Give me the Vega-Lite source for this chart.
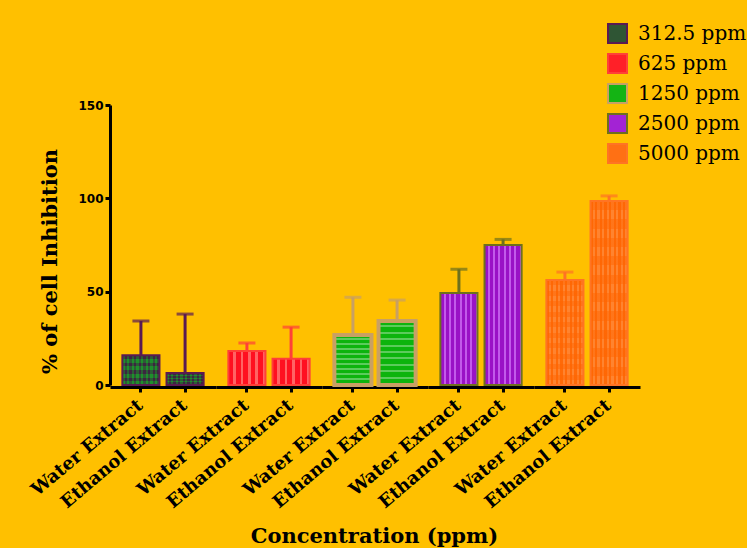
{
  "$schema": "https://vega.github.io/schema/vega-lite/v6.json",
  "background": "#FFC000",
  "padding": {"left": 27, "top": 23, "right": 0, "bottom": 0},
  "data": {
    "values": [
      {"conc": "312.5 ppm", "extract": "Water Extract", "mean": 16, "upper": 34.3},
      {"conc": "312.5 ppm", "extract": "Ethanol Extract", "mean": 6.4, "upper": 38},
      {"conc": "625 ppm", "extract": "Water Extract", "mean": 18.2, "upper": 22.5},
      {"conc": "625 ppm", "extract": "Ethanol Extract", "mean": 14, "upper": 31},
      {"conc": "1250 ppm", "extract": "Water Extract", "mean": 26.8, "upper": 47},
      {"conc": "1250 ppm", "extract": "Ethanol Extract", "mean": 34.3, "upper": 45.5},
      {"conc": "2500 ppm", "extract": "Water Extract", "mean": 49.3, "upper": 62},
      {"conc": "2500 ppm", "extract": "Ethanol Extract", "mean": 75, "upper": 78},
      {"conc": "5000 ppm", "extract": "Water Extract", "mean": 56.2, "upper": 60.5},
      {"conc": "5000 ppm", "extract": "Ethanol Extract", "mean": 98.6, "upper": 101.3}
    ]
  },
  "title": {
    "text": "Concentration (ppm)",
    "orient": "bottom",
    "anchor": "middle",
    "font": "DejaVu Serif",
    "fontSize": 21,
    "fontWeight": "bold",
    "color": "black",
    "dx": -13,
    "offset": 15
  },
  "facet": {
    "column": {
      "field": "conc",
      "type": "nominal",
      "sort": ["312.5 ppm", "625 ppm", "1250 ppm", "2500 ppm", "5000 ppm"],
      "header": null
    }
  },
  "spacing": 0,
  "spec": {
    "width": 106,
    "height": 280,
    "encoding": {
      "x": {
        "field": "extract",
        "type": "nominal",
        "sort": ["Water Extract", "Ethanol Extract"],
        "scale": {"paddingInner": 0.16, "paddingOuter": 0.28},
        "axis": {
          "title": null,
          "labelAngle": -40,
          "labelFont": "DejaVu Serif",
          "labelFontWeight": "bold",
          "labelFontSize": 18,
          "labelColor": "black",
          "labelPadding": 4,
          "labelOffset": -6,
          "domainWidth": 3,
          "domainColor": "black",
          "tickColor": "black",
          "tickWidth": 3,
          "tickSize": 5
        }
      }
    },
    "layer": [
      {
        "mark": {"type": "bar", "strokeWidth": 0},
        "encoding": {
          "y": {
            "field": "mean",
            "type": "quantitative",
            "scale": {"domain": [0, 150], "nice": false},
            "axis": {
              "title": "% of cell Inhibition",
              "titleY": 156,
              "values": [0, 50, 100, 150],
              "grid": false,
              "labelFlush": false,
              "domainWidth": 3,
              "domainColor": "black",
              "tickColor": "black",
              "tickWidth": 3,
              "tickSize": 5,
              "labelFont": "DejaVu Sans",
              "labelFontWeight": "bold",
              "labelFontSize": 12,
              "labelColor": "black",
              "labelPadding": 2,
              "titleFont": "DejaVu Serif",
              "titleFontWeight": "bold",
              "titleFontSize": 21,
              "titleColor": "black",
              "titlePadding": 17
            }
          },
          "fill": {
            "field": "conc",
            "type": "nominal",
            "scale": {
              "domain": ["312.5 ppm", "625 ppm", "1250 ppm", "2500 ppm", "5000 ppm"],
              "range": ["#2F5534", "#FF2028", "#14B414", "#A323D4", "#FF7014"]
            },
            "legend": {
              "title": null,
              "orient": "none",
              "legendX": 497,
              "legendY": -82,
              "symbolType": "square",
              "symbolSize": 361,
              "symbolStrokeWidth": 2,
              "labelFont": "DejaVu Serif",
              "labelFontSize": 20,
              "labelColor": "black",
              "labelOffset": 10,
              "rowPadding": 3
            }
          }
        }
      },
      {
        "mark": {"type": "bar", "strokeWidth": 0},
        "encoding": {
          "y": {"field": "mean", "type": "quantitative"},
          "fill": {
            "condition": [
              {"test": "datum.conc === '312.5 ppm'", "value": {"gradient": "linear", "x1": 0, "y1": 0, "x2": 1, "y2": 0, "stops": [
                {"offset": 0, "color": "#1F8F2C"}, {"offset": 0.0625, "color": "#1F8F2C"}, {"offset": 0.0625, "color": "#3B2640"}, {"offset": 0.125, "color": "#3B2640"},
                {"offset": 0.125, "color": "#1F8F2C"}, {"offset": 0.1875, "color": "#1F8F2C"}, {"offset": 0.1875, "color": "#3B2640"}, {"offset": 0.25, "color": "#3B2640"},
                {"offset": 0.25, "color": "#1F8F2C"}, {"offset": 0.3125, "color": "#1F8F2C"}, {"offset": 0.3125, "color": "#3B2640"}, {"offset": 0.375, "color": "#3B2640"},
                {"offset": 0.375, "color": "#1F8F2C"}, {"offset": 0.4375, "color": "#1F8F2C"}, {"offset": 0.4375, "color": "#3B2640"}, {"offset": 0.5, "color": "#3B2640"},
                {"offset": 0.5, "color": "#1F8F2C"}, {"offset": 0.5625, "color": "#1F8F2C"}, {"offset": 0.5625, "color": "#3B2640"}, {"offset": 0.625, "color": "#3B2640"},
                {"offset": 0.625, "color": "#1F8F2C"}, {"offset": 0.6875, "color": "#1F8F2C"}, {"offset": 0.6875, "color": "#3B2640"}, {"offset": 0.75, "color": "#3B2640"},
                {"offset": 0.75, "color": "#1F8F2C"}, {"offset": 0.8125, "color": "#1F8F2C"}, {"offset": 0.8125, "color": "#3B2640"}, {"offset": 0.875, "color": "#3B2640"},
                {"offset": 0.875, "color": "#1F8F2C"}, {"offset": 0.9375, "color": "#1F8F2C"}, {"offset": 0.9375, "color": "#3B2640"}, {"offset": 1, "color": "#3B2640"}
              ]}},
              {"test": "datum.conc === '625 ppm'", "value": {"gradient": "linear", "x1": 0, "y1": 0, "x2": 1, "y2": 0, "stops": [
                {"offset": 0, "color": "#FF1020"}, {"offset": 0.13, "color": "#FF1020"}, {"offset": 0.13, "color": "#FF6464"}, {"offset": 0.2, "color": "#FF6464"},
                {"offset": 0.2, "color": "#FF1020"}, {"offset": 0.33, "color": "#FF1020"}, {"offset": 0.33, "color": "#FF6464"}, {"offset": 0.4, "color": "#FF6464"},
                {"offset": 0.4, "color": "#FF1020"}, {"offset": 0.53, "color": "#FF1020"}, {"offset": 0.53, "color": "#FF6464"}, {"offset": 0.6, "color": "#FF6464"},
                {"offset": 0.6, "color": "#FF1020"}, {"offset": 0.73, "color": "#FF1020"}, {"offset": 0.73, "color": "#FF6464"}, {"offset": 0.8, "color": "#FF6464"},
                {"offset": 0.8, "color": "#FF1020"}, {"offset": 0.93, "color": "#FF1020"}, {"offset": 0.93, "color": "#FF6464"}, {"offset": 1, "color": "#FF6464"}
              ]}},
              {"test": "datum.conc === '1250 ppm'", "value": {"gradient": "linear", "x1": 0, "y1": 0, "x2": 0, "y2": 1, "stops": [
                {"offset": 0, "color": "#0DB40D"}, {"offset": 0.07, "color": "#0DB40D"}, {"offset": 0.07, "color": "#5CCB5C"}, {"offset": 0.1, "color": "#5CCB5C"},
                {"offset": 0.1, "color": "#0DB40D"}, {"offset": 0.17, "color": "#0DB40D"}, {"offset": 0.17, "color": "#5CCB5C"}, {"offset": 0.2, "color": "#5CCB5C"},
                {"offset": 0.2, "color": "#0DB40D"}, {"offset": 0.27, "color": "#0DB40D"}, {"offset": 0.27, "color": "#5CCB5C"}, {"offset": 0.3, "color": "#5CCB5C"},
                {"offset": 0.3, "color": "#0DB40D"}, {"offset": 0.37, "color": "#0DB40D"}, {"offset": 0.37, "color": "#5CCB5C"}, {"offset": 0.4, "color": "#5CCB5C"},
                {"offset": 0.4, "color": "#0DB40D"}, {"offset": 0.47, "color": "#0DB40D"}, {"offset": 0.47, "color": "#5CCB5C"}, {"offset": 0.5, "color": "#5CCB5C"},
                {"offset": 0.5, "color": "#0DB40D"}, {"offset": 0.57, "color": "#0DB40D"}, {"offset": 0.57, "color": "#5CCB5C"}, {"offset": 0.6, "color": "#5CCB5C"},
                {"offset": 0.6, "color": "#0DB40D"}, {"offset": 0.67, "color": "#0DB40D"}, {"offset": 0.67, "color": "#5CCB5C"}, {"offset": 0.7, "color": "#5CCB5C"},
                {"offset": 0.7, "color": "#0DB40D"}, {"offset": 0.77, "color": "#0DB40D"}, {"offset": 0.77, "color": "#5CCB5C"}, {"offset": 0.8, "color": "#5CCB5C"},
                {"offset": 0.8, "color": "#0DB40D"}, {"offset": 0.87, "color": "#0DB40D"}, {"offset": 0.87, "color": "#5CCB5C"}, {"offset": 0.9, "color": "#5CCB5C"},
                {"offset": 0.9, "color": "#0DB40D"}, {"offset": 0.97, "color": "#0DB40D"}, {"offset": 0.97, "color": "#5CCB5C"}, {"offset": 1, "color": "#5CCB5C"}
              ]}},
              {"test": "datum.conc === '2500 ppm'", "value": {"gradient": "linear", "x1": 0, "y1": 0, "x2": 1, "y2": 0, "stops": [
                {"offset": 0, "color": "#9A12C6"}, {"offset": 0.09, "color": "#9A12C6"}, {"offset": 0.09, "color": "#C25AEA"}, {"offset": 0.143, "color": "#C25AEA"},
                {"offset": 0.143, "color": "#9A12C6"}, {"offset": 0.233, "color": "#9A12C6"}, {"offset": 0.233, "color": "#C25AEA"}, {"offset": 0.286, "color": "#C25AEA"},
                {"offset": 0.286, "color": "#9A12C6"}, {"offset": 0.376, "color": "#9A12C6"}, {"offset": 0.376, "color": "#C25AEA"}, {"offset": 0.429, "color": "#C25AEA"},
                {"offset": 0.429, "color": "#9A12C6"}, {"offset": 0.519, "color": "#9A12C6"}, {"offset": 0.519, "color": "#C25AEA"}, {"offset": 0.571, "color": "#C25AEA"},
                {"offset": 0.571, "color": "#9A12C6"}, {"offset": 0.661, "color": "#9A12C6"}, {"offset": 0.661, "color": "#C25AEA"}, {"offset": 0.714, "color": "#C25AEA"},
                {"offset": 0.714, "color": "#9A12C6"}, {"offset": 0.804, "color": "#9A12C6"}, {"offset": 0.804, "color": "#C25AEA"}, {"offset": 0.857, "color": "#C25AEA"},
                {"offset": 0.857, "color": "#9A12C6"}, {"offset": 0.947, "color": "#9A12C6"}, {"offset": 0.947, "color": "#C25AEA"}, {"offset": 1, "color": "#C25AEA"}
              ]}}
            ],
            "value": {"gradient": "linear", "x1": 0, "y1": 0, "x2": 1, "y2": 0, "stops": [
              {"offset": 0, "color": "#FF6A08"}, {"offset": 0.0625, "color": "#FF6A08"}, {"offset": 0.0625, "color": "#FF8430"}, {"offset": 0.125, "color": "#FF8430"},
              {"offset": 0.125, "color": "#FF6A08"}, {"offset": 0.1875, "color": "#FF6A08"}, {"offset": 0.1875, "color": "#FF8430"}, {"offset": 0.25, "color": "#FF8430"},
              {"offset": 0.25, "color": "#FF6A08"}, {"offset": 0.3125, "color": "#FF6A08"}, {"offset": 0.3125, "color": "#FF8430"}, {"offset": 0.375, "color": "#FF8430"},
              {"offset": 0.375, "color": "#FF6A08"}, {"offset": 0.4375, "color": "#FF6A08"}, {"offset": 0.4375, "color": "#FF8430"}, {"offset": 0.5, "color": "#FF8430"},
              {"offset": 0.5, "color": "#FF6A08"}, {"offset": 0.5625, "color": "#FF6A08"}, {"offset": 0.5625, "color": "#FF8430"}, {"offset": 0.625, "color": "#FF8430"},
              {"offset": 0.625, "color": "#FF6A08"}, {"offset": 0.6875, "color": "#FF6A08"}, {"offset": 0.6875, "color": "#FF8430"}, {"offset": 0.75, "color": "#FF8430"},
              {"offset": 0.75, "color": "#FF6A08"}, {"offset": 0.8125, "color": "#FF6A08"}, {"offset": 0.8125, "color": "#FF8430"}, {"offset": 0.875, "color": "#FF8430"},
              {"offset": 0.875, "color": "#FF6A08"}, {"offset": 0.9375, "color": "#FF6A08"}, {"offset": 0.9375, "color": "#FF8430"}, {"offset": 1, "color": "#FF8430"}
            ]}
          }
        }
      },
      {
        "mark": {"type": "bar"},
        "encoding": {
          "y": {"field": "mean", "type": "quantitative"},
          "fill": {
            "condition": [
              {"test": "datum.conc === '312.5 ppm'", "value": {"gradient": "linear", "x1": 0, "y1": 0, "x2": 0, "y2": 1, "stops": [
                {"offset": 0, "color": "rgba(59,38,64,0.5)"}, {"offset": 0.125, "color": "rgba(59,38,64,0.5)"}, {"offset": 0.125, "color": "rgba(31,143,44,0.5)"}, {"offset": 0.25, "color": "rgba(31,143,44,0.5)"},
                {"offset": 0.25, "color": "rgba(59,38,64,0.5)"}, {"offset": 0.375, "color": "rgba(59,38,64,0.5)"}, {"offset": 0.375, "color": "rgba(31,143,44,0.5)"}, {"offset": 0.5, "color": "rgba(31,143,44,0.5)"},
                {"offset": 0.5, "color": "rgba(59,38,64,0.5)"}, {"offset": 0.625, "color": "rgba(59,38,64,0.5)"}, {"offset": 0.625, "color": "rgba(31,143,44,0.5)"}, {"offset": 0.75, "color": "rgba(31,143,44,0.5)"},
                {"offset": 0.75, "color": "rgba(59,38,64,0.5)"}, {"offset": 0.875, "color": "rgba(59,38,64,0.5)"}, {"offset": 0.875, "color": "rgba(31,143,44,0.5)"}, {"offset": 1, "color": "rgba(31,143,44,0.5)"}
              ]}},
              {"test": "datum.conc === '5000 ppm'", "value": {"gradient": "linear", "x1": 0, "y1": 0, "x2": 0, "y2": 1, "stops": [
                {"offset": 0, "color": "rgba(255,100,0,0.45)"}, {"offset": 0.05, "color": "rgba(255,100,0,0.45)"}, {"offset": 0.05, "color": "rgba(255,100,0,0)"}, {"offset": 0.1, "color": "rgba(255,100,0,0)"},
                {"offset": 0.1, "color": "rgba(255,100,0,0.45)"}, {"offset": 0.15, "color": "rgba(255,100,0,0.45)"}, {"offset": 0.15, "color": "rgba(255,100,0,0)"}, {"offset": 0.2, "color": "rgba(255,100,0,0)"},
                {"offset": 0.2, "color": "rgba(255,100,0,0.45)"}, {"offset": 0.25, "color": "rgba(255,100,0,0.45)"}, {"offset": 0.25, "color": "rgba(255,100,0,0)"}, {"offset": 0.3, "color": "rgba(255,100,0,0)"},
                {"offset": 0.3, "color": "rgba(255,100,0,0.45)"}, {"offset": 0.35, "color": "rgba(255,100,0,0.45)"}, {"offset": 0.35, "color": "rgba(255,100,0,0)"}, {"offset": 0.4, "color": "rgba(255,100,0,0)"},
                {"offset": 0.4, "color": "rgba(255,100,0,0.45)"}, {"offset": 0.45, "color": "rgba(255,100,0,0.45)"}, {"offset": 0.45, "color": "rgba(255,100,0,0)"}, {"offset": 0.5, "color": "rgba(255,100,0,0)"},
                {"offset": 0.5, "color": "rgba(255,100,0,0.45)"}, {"offset": 0.55, "color": "rgba(255,100,0,0.45)"}, {"offset": 0.55, "color": "rgba(255,100,0,0)"}, {"offset": 0.6, "color": "rgba(255,100,0,0)"},
                {"offset": 0.6, "color": "rgba(255,100,0,0.45)"}, {"offset": 0.65, "color": "rgba(255,100,0,0.45)"}, {"offset": 0.65, "color": "rgba(255,100,0,0)"}, {"offset": 0.7, "color": "rgba(255,100,0,0)"},
                {"offset": 0.7, "color": "rgba(255,100,0,0.45)"}, {"offset": 0.75, "color": "rgba(255,100,0,0.45)"}, {"offset": 0.75, "color": "rgba(255,100,0,0)"}, {"offset": 0.8, "color": "rgba(255,100,0,0)"},
                {"offset": 0.8, "color": "rgba(255,100,0,0.45)"}, {"offset": 0.85, "color": "rgba(255,100,0,0.45)"}, {"offset": 0.85, "color": "rgba(255,100,0,0)"}, {"offset": 0.9, "color": "rgba(255,100,0,0)"},
                {"offset": 0.9, "color": "rgba(255,100,0,0.45)"}, {"offset": 0.95, "color": "rgba(255,100,0,0.45)"}, {"offset": 0.95, "color": "rgba(255,100,0,0)"}, {"offset": 1, "color": "rgba(255,100,0,0)"}
              ]}}
            ],
            "value": "transparent"
          },
          "stroke": {
            "field": "conc",
            "type": "nominal",
            "scale": {
              "domain": ["312.5 ppm", "625 ppm", "1250 ppm", "2500 ppm", "5000 ppm"],
              "range": ["#5A1A52", "#FF4038", "#C8A064", "#6E701C", "#FF7424"]
            },
            "legend": {
              "title": null,
              "orient": "none",
              "legendX": 497,
              "legendY": -82,
              "symbolType": "square",
              "symbolSize": 361,
              "symbolStrokeWidth": 2,
              "labelFont": "DejaVu Serif",
              "labelFontSize": 20,
              "labelColor": "black",
              "labelOffset": 10,
              "rowPadding": 3
            }
          },
          "strokeWidth": {
            "condition": {"test": "datum.conc === '1250 ppm'", "value": 4},
            "value": 2
          }
        }
      },
      {
        "mark": {"type": "rule", "strokeWidth": 3},
        "encoding": {
          "y": {"field": "mean", "type": "quantitative"},
          "y2": {"field": "upper"},
          "stroke": {"field": "conc", "type": "nominal", "legend": null}
        }
      },
      {
        "mark": {"type": "tick", "thickness": 3, "size": 17},
        "encoding": {
          "y": {"field": "upper", "type": "quantitative"},
          "color": {
            "field": "conc",
            "type": "nominal",
            "legend": null,
            "scale": {
              "domain": ["312.5 ppm", "625 ppm", "1250 ppm", "2500 ppm", "5000 ppm"],
              "range": ["#5A1A52", "#FF4038", "#C8A064", "#6E701C", "#FF7424"]
            }
          }
        }
      }
    ]
  },
  "config": {
    "view": {"stroke": null},
    "legend": {"symbolType": "square"}
  }
}
